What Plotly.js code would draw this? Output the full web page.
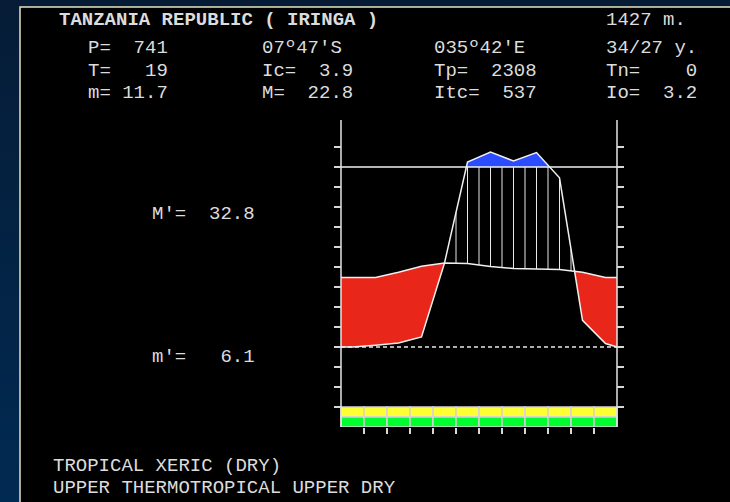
<!DOCTYPE html>
<html>
<head>
<meta charset="utf-8">
<script src="https://cdn.plot.ly/plotly-3.0.1.min.js"></script>
<style>
html,body{margin:0;padding:0;background:linear-gradient(180deg,#061c36 0%,#012a52 100%);}
#chart{width:730px;height:502px;}
</style>
</head>
<body>
<div id="chart"></div>
<script>
// ---------------- data ----------------
const monthLabels = ['Jul','Aug','Sep','Oct','Nov','Dec','Jan','Feb','Mar','Apr','May','Jun'];
const tempMean   = [17.4, 17.4, 18.7, 20.2, 21.0, 20.85, 20.1, 19.6, 19.5, 19.35, 18.7, 17.35]; // °C
const precipMm   = [0, 1, 2.2, 5.6, 46.7, 125, 175, 130, 172, 94, 14.8, 1.9];                 // mm
const tempEdge   = 17.4;   // value where the temperature curve meets the side axes
const precipEdge = 0;      // value where the precipitation curve meets the side axes
const bandUpperColors = ['#ffff33','#ffff33','#ffff33','#ffff33','#ffff33','#ffff33','#ffff33','#ffff33','#ffff33','#ffff33','#ffff33','#ffff33'];
const bandLowerColors = ['#00ff2e','#00ff2e','#00ff2e','#00ff2e','#00ff2e','#00ff2e','#00ff2e','#00ff2e','#00ff2e','#00ff2e','#00ff2e','#00ff2e'];
const tempTicks = [-15,-10,-5,0,5,10,15,20,25,30,35,40,45,50];

const stationName = 'TANZANIA REPUBLIC ( IRINGA )';
const altitudeText = '1427 m.';
const infoRow1 = ['P=  741', "07º47'S", "035º42'E", '34/27 y.'];
const infoRow2 = ['T=   19', 'Ic=  3.9', 'Tp=  2308', 'Tn=    0'];
const infoRow3 = ['m= 11.7', 'M=  22.8', 'Itc=  537', 'Io=  3.2'];
const absMaxText = "M'=  32.8";
const absMinText = "m'=   6.1";
const bioclimateLines = ['TROPICAL XERIC (DRY)', 'UPPER THERMOTROPICAL UPPER DRY'];

// ---------------- scales ----------------
const LINE100 = 45;                 // 100 mm line in diagram units
function pmap(p){ return p <= 100 ? p * 0.45 : LINE100 + (p - 100) * 0.05; }

const xs = [0].concat(monthLabels.map((_, i) => i + 0.5)).concat([12]);
const ty = [tempEdge].concat(tempMean).concat([tempEdge]);
const py = [pmap(precipEdge)].concat(precipMm.map(pmap)).concat([pmap(precipEdge)]);

function interp(arr, x){
  for (let i = 0; i < xs.length - 1; i++){
    if (x >= xs[i] && x <= xs[i+1]){
      const f = (x - xs[i]) / (xs[i+1] - xs[i]);
      return arr[i] + f * (arr[i+1] - arr[i]);
    }
  }
  return arr[arr.length - 1];
}

function splitRuns(aArr, bArr){
  const pts = [];
  for (let i = 0; i < xs.length; i++){
    pts.push({x: xs[i], a: aArr[i], b: bArr[i]});
    if (i < xs.length - 1){
      const d0 = aArr[i] - bArr[i], d1 = aArr[i+1] - bArr[i+1];
      if (d0 * d1 < 0){
        const f = d0 / (d0 - d1);
        pts.push({x: xs[i] + f * (xs[i+1] - xs[i]),
                  a: aArr[i] + f * (aArr[i+1] - aArr[i]),
                  b: bArr[i] + f * (bArr[i+1] - bArr[i])});
      }
    }
  }
  const runs = []; let cur = [];
  pts.forEach(p => {
    if (p.a - p.b >= -1e-9){ cur.push(p); }
    else { if (cur.length > 1) runs.push(cur); cur = []; }
  });
  if (cur.length > 1) runs.push(cur);
  return runs;
}

function polyTrace(run, color){
  const x = run.map(p => p.x).concat(run.slice().reverse().map(p => p.x));
  const y = run.map(p => p.a).concat(run.slice().reverse().map(p => p.b));
  return {type:'scatter', mode:'lines', x:x, y:y, fill:'toself', fillcolor:color,
          line:{width:0, color:color}, hoverinfo:'skip', showlegend:false};
}

const traces = [];
splitRuns(ty, py).forEach(run => traces.push(polyTrace(run, '#e8261a')));
const lineArr = xs.map(() => LINE100);
splitRuns(py, lineArr).forEach(run => traces.push(polyTrace(run, '#2c4cff')));

const hx = [], hy = [];
for (let k = 1; k < 24; k++){
  const x = k * 0.5;
  const t = interp(ty, x), p = interp(py, x);
  if (p - t > 0.05){
    hx.push(x, x, null);
    hy.push(t, Math.min(p, LINE100), null);
  }
}
traces.push({type:'scatter', mode:'lines', x:hx, y:hy, line:{color:'#e8e8e8', width:1},
             hoverinfo:'skip', showlegend:false, connectgaps:false});

const ext = 7/23;
traces.push({type:'scatter', mode:'lines', x:[-ext, 12+ext], y:[LINE100, LINE100],
             line:{color:'#f0f0f0', width:1.5}, hoverinfo:'skip', showlegend:false});
traces.push({type:'scatter', mode:'lines', x:[-ext, 12+ext], y:[0, 0],
             line:{color:'#e8e8e8', width:1.5, dash:'4px,3px'}, hoverinfo:'skip', showlegend:false});
traces.push({type:'scatter', mode:'lines', x:xs, y:ty, line:{color:'#f0f0f0', width:1.5},
             hoverinfo:'skip', showlegend:false});
traces.push({type:'scatter', mode:'lines', x:xs, y:py, line:{color:'#f0f0f0', width:1.5},
             hoverinfo:'skip', showlegend:false});

const centers = monthLabels.map((_, i) => i + 0.5);
traces.push({type:'bar', x:centers, y:centers.map(() => 2.5), base:centers.map(() => -17.5),
             width:centers.map(() => 1), marker:{color:bandUpperColors, line:{color:'#d4d4d4', width:1.5}},
             hoverinfo:'skip', showlegend:false});
traces.push({type:'bar', x:centers, y:centers.map(() => 2.5), base:centers.map(() => -20),
             width:centers.map(() => 1), marker:{color:bandLowerColors, line:{color:'#d4d4d4', width:1.5}},
             hoverinfo:'skip', showlegend:false});

const yTop = 56.75;
traces.push({type:'scatter', mode:'lines', x:[0,0], y:[-20, yTop], line:{color:'#e6e6e6', width:1.5},
             hoverinfo:'skip', showlegend:false});
traces.push({type:'scatter', mode:'lines', x:[12,12], y:[-20, yTop], line:{color:'#e6e6e6', width:1.5},
             hoverinfo:'skip', showlegend:false});

// ---------------- page geometry (pixel -> paper) ----------------
const W = 730, H = 502;
const M = {l:334, r:106, t:120, b:75};
const PW = W - M.l - M.r, PH = H - M.t - M.b;
const px2x = px => (px - M.l) / PW;
const py2y = py => (H - M.b - py) / PH;

const nb = s => s.replace(/ /g, '\u00a0');
const fontBase = {family:'Liberation Mono, DejaVu Sans Mono, monospace', size:19, color:'#dcdcdc'};
function ann(text, px, pyPix, bold){
  return {xref:'paper', yref:'paper', x:px2x(px - 2), y:py2y(pyPix), xanchor:'left', yanchor:'middle',
          text: bold ? '<b>' + nb(text) + '</b>' : nb(text), showarrow:false, font:fontBase};
}
const annotations = [];
annotations.push(ann(stationName, 59, 20, true));
annotations.push(ann(altitudeText, 606, 20, false));
const colX = [88, 262, 434, 606];
[infoRow1, infoRow2, infoRow3].forEach((row, r) => {
  row.forEach((t, c) => annotations.push(ann(t, colX[c], [48, 71, 93][r], false)));
});
annotations.push(ann(absMaxText, 152, 214, false));
annotations.push(ann(absMinText, 152, 357, false));
bioclimateLines.forEach((t, i) => annotations.push(ann(t, 53, [466, 488][i], false)));

const layout = {
  width: W, height: H,
  margin: {l:M.l, r:M.r, t:M.t, b:M.b, pad:0},
  paper_bgcolor: 'rgba(0,0,0,0)',
  plot_bgcolor: '#000000',
  barmode: 'overlay',
  showlegend: false,
  xaxis: {range:[-ext, 12+ext], tickvals:[1,2,3,4,5,6,7,8,9,10,11], ticks:'outside', ticklen:6,
          tickwidth:1.5, tickcolor:'#d8d8d8', showticklabels:false, showgrid:false, zeroline:false,
          showline:false, fixedrange:true},
  yaxis: {range:[-20, yTop], tickvals:tempTicks, ticks:'inside', ticklen:7, tickwidth:1.5,
          tickcolor:'#d8d8d8', mirror:'ticks', showticklabels:false, showgrid:false, zeroline:false,
          showline:false, fixedrange:true},
  shapes: [{type:'rect', xref:'paper', yref:'paper', x0:px2x(20), x1:px2x(W + 10), y0:py2y(H + 10), y1:py2y(7),
            fillcolor:'#000000', line:{color:'#e6e2bd', width:1.5}, layer:'below'}],
  annotations: annotations
};

Plotly.newPlot('chart', traces, layout, {displayModeBar:false, staticPlot:true});
</script>
</body>
</html>
